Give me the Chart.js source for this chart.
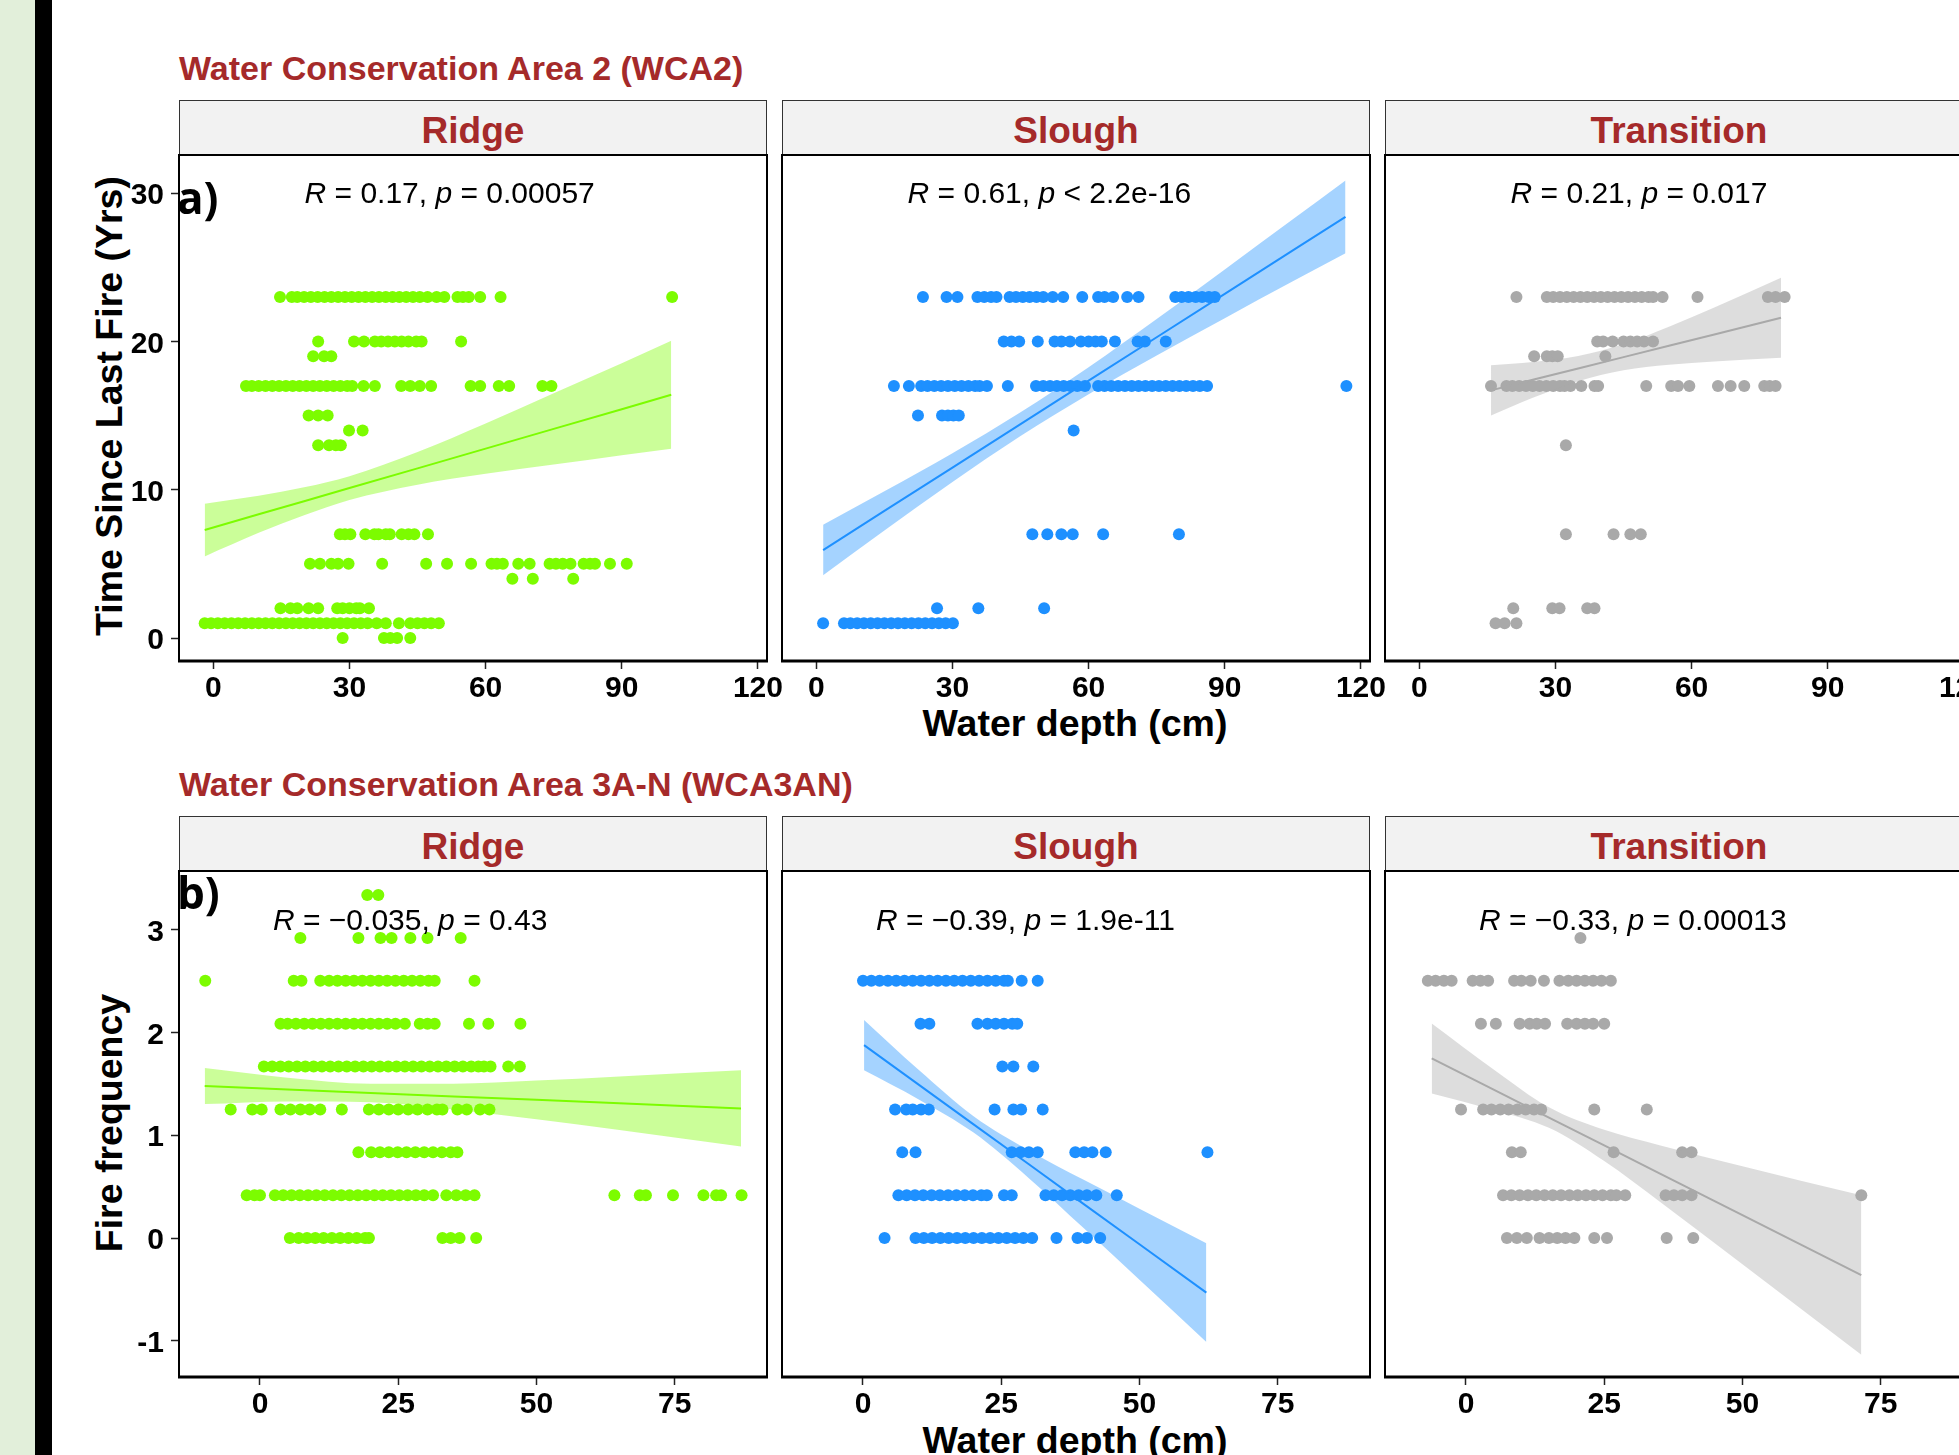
<!DOCTYPE html>
<html><head><meta charset="utf-8">
<script src="https://cdn.jsdelivr.net/npm/chart.js@4.4.1/dist/chart.umd.min.js"></script>
<style>
html,body{margin:0;padding:0;width:1959px;height:1455px;overflow:hidden;background:#fff;}
#stage{position:relative;width:1959px;height:1455px;overflow:hidden;background:#fff;}
.t{position:absolute;white-space:nowrap;line-height:1;margin:0;padding:0;}
canvas{position:absolute;}
.strip{position:absolute;background:#F2F2F2;border:1.5px solid #333;box-sizing:border-box;}
</style></head><body><div id="stage"></div>
<script>
// ---------------- DATA ----------------
const TOP_X_TICKS = [0, 30, 60, 90, 120];
const TOP_Y_TICKS = [0, 10, 20, 30];
const BOTTOM_X_TICKS = [0, 25, 50, 75];
const BOTTOM_Y_TICKS = [-1, 0, 1, 2, 3];
const FACETS = ['Ridge', 'Slough', 'Transition'];
const AREA_TITLES = ['Water Conservation Area 2 (WCA2)', 'Water Conservation Area 3A-N (WCA3AN)'];
const Y_TITLES = ['Time Since Last Fire (Yrs)', 'Fire frequency'];
const X_TITLE = 'Water depth (cm)';
const PANEL_TAGS = ['a)', 'b)'];

// WCA2 – time since last fire (y levels) vs water depth (x)
const WCA2_RIDGE_LEVELS = [23, 20, 19, 17, 15, 14, 13, 7, 5, 4, 2, 1, 0];
const WCA2_RIDGE_DEPTHS = [
  [14.7, 17.3, 18.5, 20, 21.5, 23, 24.5, 26, 27.5, 29, 30.5, 32, 33.5, 35, 36.5, 38, 39.5, 41, 42.5, 44, 45.5, 47.2, 49.2, 50.9, 53.8, 55, 56.3, 58.8, 63.3, 101.1],
  [23.1, 31.0, 33.2, 35.6, 37, 38.5, 40, 41.5, 43, 44.7, 45.9, 54.6],
  [22.0, 24.4, 26.0],
  [7.2, 8.5, 10, 11.5, 13, 14.5, 16, 17.5, 19, 20.5, 22, 23.5, 25, 26.5, 28, 29.5, 30.6, 33.1, 35.6, 41.4, 43.4, 45.5, 48.0, 56.7, 58.8, 62.9, 65.2, 72.5, 74.5],
  [21.0, 23.1, 25.2],
  [29.9, 32.9],
  [23.1, 25.5, 27, 28.1],
  [27.9, 29, 30.2, 33.5, 35.5, 36.4, 38, 38.9, 41.5, 43, 44.3, 47.3],
  [21.3, 23.5, 26.0, 27.5, 29.8, 37.2, 46.9, 51.5, 56.8, 61.3, 62.5, 63.8, 67.2, 69.7, 74.1, 75.5, 77.0, 78.7, 81.6, 83, 84.1, 87.4, 91.1],
  [65.9, 70.4, 79.3],
  [14.8, 17, 18.5, 21, 23.1, 27.3, 28.5, 30, 31.5, 32.3, 34.3],
  [-1.9, -0.5, 1, 2.5, 4, 5.5, 7, 8.5, 10, 11.5, 13, 14.5, 16, 17.5, 19, 20.5, 22, 23.5, 25, 26.5, 28, 29.5, 31, 32.5, 34, 36.0, 38.0, 40.9, 43.4, 45, 46.5, 48, 49.7],
  [28.5, 37.6, 39, 40.5, 43.4]
];
const WCA2_SLOUGH_LEVELS = [23, 20, 17, 15, 14, 7, 2, 1];
const WCA2_SLOUGH_DEPTHS = [
  [23.5, 28.7, 31.1, 35.5, 37, 38.5, 39.7, 42.6, 44, 45.5, 47, 48.5, 50, 52.1, 54.4, 58.6, 62.1, 63.5, 65.4, 68.5, 71.0, 79.1, 80.5, 82.0, 83.6, 85, 86.5, 87.8],
  [41.3, 43, 44.7, 48.8, 52.5, 54, 55.9, 58.3, 60, 61.5, 62.9, 65.8, 70.8, 72.4, 77.0],
  [17.1, 20.4, 23.1, 24.5, 26, 27.5, 29, 30.5, 32, 33.5, 35, 36.0, 37.6, 42.2, 48.4, 50, 51.5, 53, 54.5, 56, 57.5, 59.2, 62.1, 63.5, 65, 66.5, 68, 69.5, 71, 72.5, 74, 75.5, 77, 78.5, 80, 81.5, 83, 84.5, 86.1, 116.8],
  [22.4, 27.7, 29, 30.2, 31.4],
  [56.7],
  [47.6, 50.9, 54.0, 56.5, 63.2, 79.9],
  [26.6, 35.7, 50.2],
  [1.5, 6.1, 7.5, 9, 10.5, 12, 13.5, 15, 16.5, 18, 19.5, 21, 22.5, 24, 25.5, 27, 28.5, 30.1]
];
const WCA2_TRANS_LEVELS = [23, 20, 19, 17, 13, 7, 2, 1];
const WCA2_TRANS_DEPTHS = [
  [21.4, 28.1, 29.5, 31, 32.5, 34, 35.5, 37, 38.5, 40, 41.5, 43, 44.5, 46, 47.5, 49, 50.5, 51.5, 53.6, 61.3, 76.8, 78.5, 80.5],
  [39.2, 40.5, 42.6, 45.0, 46.5, 48, 49.5, 51.5],
  [25.3, 28.1, 29.3, 30.5, 41.0],
  [15.8, 19.2, 20.5, 22, 23.5, 25, 26.5, 28, 29.5, 31, 32, 33.3, 35.7, 38.6, 39.4, 50.0, 55.5, 57, 59.5, 65.8, 68.6, 71.6, 76.0, 77.2, 78.5],
  [32.3],
  [32.3, 42.8, 46.5, 48.8],
  [20.7, 29.3, 30.9, 37.0, 38.6],
  [16.8, 18.8, 21.4]
];

// WCA3AN – fire frequency (y levels) vs water depth (x)
const WCA3_RIDGE_LEVELS = [3.333, 2.917, 2.5, 2.083, 1.667, 1.25, 0.833, 0.417, 0];
const WCA3_RIDGE_DEPTHS = [
  [19.4, 21.4],
  [7.3, 17.8, 21.8, 23.8, 27.2, 30.3, 36.3],
  [-9.9, 6.1, 7.5, 10.9, 12.5, 14, 15.5, 17, 18.5, 20, 21.5, 23, 24.5, 26, 27.5, 29, 30.5, 31.6, 38.8],
  [3.7, 5, 6.5, 8, 9.5, 11, 12.5, 14, 15.5, 17, 18.5, 20, 21.5, 23, 24.5, 26.2, 28.9, 30.3, 31.6, 37.8, 41.3, 47.1],
  [0.7, 2.2, 3.7, 5.2, 6.7, 8.2, 9.7, 11.2, 12.7, 14.2, 15.7, 17.2, 18.7, 20.2, 21.7, 23.2, 24.7, 26.2, 27.7, 29.2, 30.7, 32.2, 33.7, 35.2, 36.7, 38.2, 39.5, 40.5, 41.7, 44.9, 47.0],
  [-5.3, -1.4, 0.3, 3.7, 5.5, 7.3, 9, 10.9, 14.8, 19.7, 21.5, 23.3, 25, 26.8, 28.5, 30.3, 32, 33.0, 35.7, 37.4, 39.8, 41.5],
  [17.8, 20.1, 21.7, 23.3, 24.9, 26.5, 28.1, 29.7, 31.3, 32.9, 34.5, 35.7],
  [-2.4, -1, 0, 2.7, 4.2, 5.7, 7.2, 8.7, 10.2, 11.7, 13.2, 14.7, 16.2, 17.7, 19.2, 20.7, 22.2, 23.7, 25.2, 26.7, 28.2, 29.7, 31.3, 33.7, 35.5, 37.2, 38.8, 64.1, 68.7, 69.8, 74.7, 80.2, 82.5, 83.4, 87.1],
  [5.4, 7, 8.5, 10, 11.5, 13, 14.5, 16, 17.5, 19, 19.7, 33.0, 34.5, 36.1, 39.1]
];
const WCA3_SLOUGH_LEVELS = [2.5, 2.083, 1.667, 1.25, 0.833, 0.417, 0];
const WCA3_SLOUGH_DEPTHS = [
  [0, 1.5, 3, 4.5, 6, 7.5, 9, 10.5, 12, 13.5, 15, 16.5, 18, 19.5, 21, 22.5, 24, 25.5, 26.2, 28.7, 31.6],
  [10.4, 12.0, 20.7, 22.5, 24, 25.5, 27.0, 27.9],
  [25.2, 27.2, 30.8],
  [5.8, 7.8, 9, 10.5, 11.9, 23.8, 27.2, 28.6, 32.5],
  [7.1, 9.5, 26.9, 28.5, 30, 31.6, 38.4, 40, 41.5, 43.9, 62.3],
  [6.4, 7.9, 9.4, 10.9, 12.4, 13.9, 15.4, 16.9, 18.4, 19.9, 21.4, 22.4, 25.5, 26.9, 33.0, 34.5, 36, 37.5, 39, 40.5, 42.2, 45.9],
  [3.9, 9.5, 11, 12.5, 14, 15.5, 17, 18.5, 20, 21.5, 23, 24.5, 26, 27.5, 29, 30.6, 35.0, 38.8, 40.5, 42.9]
];
const WCA3_TRANS_LEVELS = [2.917, 2.5, 2.083, 1.25, 0.833, 0.417, 0];
const WCA3_TRANS_DEPTHS = [
  [20.7],
  [-6.9, -5.5, -4, -2.6, 1.2, 2.6, 4.0, 8.7, 10, 11.7, 14.1, 16.9, 18.5, 20, 21.5, 23, 24.5, 26.2],
  [2.7, 5.4, 9.7, 11.5, 12.8, 14.3, 18.3, 20, 21.5, 23, 25.0],
  [-0.9, 3.1, 4.6, 6.2, 7.7, 9.3, 10.8, 12.3, 13.6, 23.2, 32.7],
  [8.3, 9.9, 26.7, 39.1, 40.8],
  [6.7, 8.2, 9.7, 11.2, 12.7, 14.2, 15.7, 17.2, 18.7, 20.2, 21.7, 23.2, 24.7, 26.2, 27.2, 28.8, 36.1, 37.6, 39.1, 40.8, 71.5],
  [7.4, 9.2, 11.0, 13.3, 15, 16.5, 18, 19.6, 23.2, 25.5, 36.3, 41.1]
];

// regression lines and 95% bands
const WCA2_RIDGE_FIT_X = [-1.9, 10, 20, 30, 45, 60, 75, 90, 100.9];
const WCA2_RIDGE_FIT_Y = [7.28, 8.34, 9.22, 10.11, 11.44, 12.77, 14.1, 15.43, 16.4];
const WCA2_RIDGE_FIT_HI = [9.06, 9.59, 10.16, 10.91, 12.54, 14.47, 16.5, 18.53, 20.04];
const WCA2_RIDGE_FIT_LO = [5.5, 7.09, 8.28, 9.31, 10.34, 11.07, 11.7, 12.33, 12.76];

const WCA2_SLOUGH_FIT_X = [1.5, 15, 30, 45, 60, 75, 90, 105, 116.6];
const WCA2_SLOUGH_FIT_Y = [5.93, 8.57, 11.49, 14.42, 17.35, 20.28, 23.21, 26.14, 28.4];
const WCA2_SLOUGH_FIT_HI = [7.63, 9.89, 12.46, 15.22, 18.26, 21.51, 24.85, 28.23, 30.85];
const WCA2_SLOUGH_FIT_LO = [4.23, 7.25, 10.52, 13.62, 16.44, 19.05, 21.57, 24.05, 25.95];

const WCA2_TRANS_FIT_X = [15.8, 25, 35, 45, 55, 65, 79.7];
const WCA2_TRANS_FIT_Y = [16.7, 17.41, 18.17, 18.94, 19.71, 20.47, 21.6];
const WCA2_TRANS_FIT_HI = [18.4, 18.62, 19.02, 19.82, 20.99, 22.29, 24.3];
const WCA2_TRANS_FIT_LO = [15.0, 16.2, 17.32, 18.06, 18.43, 18.65, 18.9];

const WCA3_RIDGE_FIT_X = [-10, 5, 20, 35, 50, 65, 87];
const WCA3_RIDGE_FIT_Y = [1.477, 1.443, 1.41, 1.376, 1.343, 1.309, 1.26];
const WCA3_RIDGE_FIT_HI = [1.652, 1.558, 1.50, 1.50, 1.53, 1.57, 1.63];
const WCA3_RIDGE_FIT_LO = [1.302, 1.328, 1.32, 1.25, 1.155, 1.05, 0.89];

const WCA3_SLOUGH_FIT_X = [0.19, 10, 20, 30, 40, 50, 62.1];
const WCA3_SLOUGH_FIT_Y = [1.875, 1.494, 1.105, 0.717, 0.328, -0.06, -0.53];
const WCA3_SLOUGH_FIT_HI = [2.12, 1.638, 1.185, 0.852, 0.564, 0.286, -0.05];
const WCA3_SLOUGH_FIT_LO = [1.63, 1.35, 1.025, 0.582, 0.092, -0.406, -1.01];

const WCA3_TRANS_FIT_X = [-6.2, 5, 15, 25, 35, 50, 71.5];
const WCA3_TRANS_FIT_Y = [1.746, 1.442, 1.171, 0.9, 0.629, 0.222, -0.36];
const WCA3_TRANS_FIT_HI = [2.086, 1.639, 1.271, 1.052, 0.903, 0.698, 0.415];
const WCA3_TRANS_FIT_LO = [1.406, 1.245, 1.071, 0.748, 0.355, -0.254, -1.135];

const R_VALUES = [['0.17', '0.61', '0.21'], ['\u22120.035', '\u22120.39', '\u22120.33']];
const P_VALUES = [['= 0.00057', '< 2.2e-16', '= 0.017'], ['= 0.43', '= 1.9e-11', '= 0.00013']];

// ---------------- STYLE / LAYOUT ----------------
const COLORS = ['#7CFC00', '#1E90FF', '#A9A9A9'];
const RIBBONS = ['rgba(124,252,0,0.4)', 'rgba(30,144,255,0.4)', 'rgba(169,169,169,0.4)'];
const TITLE_RED = '#A52A2A';
const FONT = '"Liberation Sans", Arial, sans-serif';
const COL_LEFT = [179, 782, 1385];
const PANEL_W = 588, PANEL_H = 506;
const ROWS = [
  {strip: 100, top: 155, titleBase: 78, stripBase: 141, xTitleBase: 734, yTitleMid: 406, tagBase: 206,
   xMin: -7.56, xMax: 122.0, yMin: -1.55, yMax: 32.57, xTicks: TOP_X_TICKS, yTicks: TOP_Y_TICKS, annX: 20.1, annY: 29.3},
  {strip: 816, top: 871, titleBase: 794, stripBase: 857, xTitleBase: 1451, yTitleMid: 1123, tagBase: 901,
   xMin: -14.65, xMax: 91.7, yMin: -1.35, yMax: 3.567, xTicks: BOTTOM_X_TICKS, yTicks: BOTTOM_Y_TICKS, annX: 2.35, annY: 2.99}
];
const PANEL_DATA = [
  [[WCA2_RIDGE_LEVELS, WCA2_RIDGE_DEPTHS, WCA2_RIDGE_FIT_X, WCA2_RIDGE_FIT_Y, WCA2_RIDGE_FIT_HI, WCA2_RIDGE_FIT_LO],
   [WCA2_SLOUGH_LEVELS, WCA2_SLOUGH_DEPTHS, WCA2_SLOUGH_FIT_X, WCA2_SLOUGH_FIT_Y, WCA2_SLOUGH_FIT_HI, WCA2_SLOUGH_FIT_LO],
   [WCA2_TRANS_LEVELS, WCA2_TRANS_DEPTHS, WCA2_TRANS_FIT_X, WCA2_TRANS_FIT_Y, WCA2_TRANS_FIT_HI, WCA2_TRANS_FIT_LO]],
  [[WCA3_RIDGE_LEVELS, WCA3_RIDGE_DEPTHS, WCA3_RIDGE_FIT_X, WCA3_RIDGE_FIT_Y, WCA3_RIDGE_FIT_HI, WCA3_RIDGE_FIT_LO],
   [WCA3_SLOUGH_LEVELS, WCA3_SLOUGH_DEPTHS, WCA3_SLOUGH_FIT_X, WCA3_SLOUGH_FIT_Y, WCA3_SLOUGH_FIT_HI, WCA3_SLOUGH_FIT_LO],
   [WCA3_TRANS_LEVELS, WCA3_TRANS_DEPTHS, WCA3_TRANS_FIT_X, WCA3_TRANS_FIT_Y, WCA3_TRANS_FIT_HI, WCA3_TRANS_FIT_LO]]
];

const stage = document.getElementById('stage');
function div(cls, css, text) {
  const d = document.createElement('div');
  if (cls) d.className = cls;
  d.style.cssText = css;
  if (text !== undefined) d.textContent = text;
  stage.appendChild(d);
  return d;
}
// baseline offset for line-height:1 boxes
const LS_BASE = 0.8465, OS_BASE = 0.888;

// left decoration
div('', 'position:absolute;left:0;top:0;width:35px;height:1455px;background:#E2EFDA;');
div('', 'position:absolute;left:35px;top:0;width:17px;height:1455px;background:#000;');

ROWS.forEach((row, r) => {
  div('t', `left:179px;top:${row.titleBase - LS_BASE * 34}px;font:bold 34px ${FONT};color:${TITLE_RED};`, AREA_TITLES[r]);
  FACETS.forEach((f, c) => {
    div('strip', `left:${COL_LEFT[c]}px;top:${row.strip}px;width:${PANEL_W}px;height:${row.top - row.strip + 1}px;`);
    div('t', `left:${COL_LEFT[c] + PANEL_W / 2 - 300}px;width:600px;text-align:center;top:${row.stripBase - LS_BASE * 37}px;font:bold 37px ${FONT};color:${TITLE_RED};`, f);
  });
  div('t', `left:${COL_LEFT[1] + PANEL_W / 2 - 1 - 400}px;width:800px;text-align:center;top:${row.xTitleBase - LS_BASE * 37.5}px;font:bold 37.5px ${FONT};color:#000;`, X_TITLE);
  div('t', `left:${120 - LS_BASE * 37.5}px;top:${row.yTitleMid + 400}px;width:800px;text-align:center;font:bold 37.5px ${FONT};color:#000;transform-origin:0 0;transform:rotate(-90deg);`, Y_TITLES[r]);
});

function pointsOf(levels, depths) {
  const pts = [];
  levels.forEach((lv, i) => depths[i].forEach(d => pts.push({x: d, y: lv})));
  return pts;
}
function seriesOf(xs, ys) { return xs.map((x, i) => ({x: x, y: ys[i]})); }

const panelPlugin = {
  id: 'panelDeco',
  afterDatasetsDraw(chart, args, opts) {
    const ctx = chart.ctx;
    const xs = chart.scales.x, ys = chart.scales.y;
    const px = xs.getPixelForValue(opts.annX), py = ys.getPixelForValue(opts.annY);
    const reg = `30px ${FONT}`, ita = `italic 30px ${FONT}`;
    const parts = [[ita, 'R'], [reg, ' = ' + opts.r + ', '], [ita, 'p'], [reg, ' ' + opts.p]];
    ctx.save();
    ctx.fillStyle = '#000'; ctx.textBaseline = 'alphabetic'; ctx.textAlign = 'left';
    let cx = px;
    for (const [f, t] of parts) { ctx.font = f; ctx.fillText(t, cx, py); cx += ctx.measureText(t).width; }
    ctx.restore();
  },
  afterDraw(chart) {
    const ctx = chart.ctx, a = chart.chartArea;
    ctx.save();
    ctx.strokeStyle = '#000';
    ctx.lineWidth = 2;
    ctx.strokeRect(a.left, a.top, a.right - a.left, a.bottom - a.top);
    ctx.lineWidth = 3;
    ctx.beginPath(); ctx.moveTo(a.left - 1, a.bottom); ctx.lineTo(a.right + 1, a.bottom); ctx.stroke();
    ctx.restore();
  }
};

ROWS.forEach((row, r) => {
  [0, 1, 2].forEach(c => {
    const [levels, depths, fx, fy, fhi, flo] = PANEL_DATA[r][c];
    const padL = c === 0 ? 59 : 40, padR = 30, padT = 30, padB = 70;
    const cv = document.createElement('canvas');
    const W = PANEL_W + padL + padR, H = PANEL_H + padT + padB;
    cv.width = W; cv.height = H;
    cv.style.cssText = `left:${COL_LEFT[c] - padL}px;top:${row.top - padT}px;width:${W}px;height:${H}px;`;
    stage.appendChild(cv);
    const tickFont = {family: FONT, size: 30, weight: 'bold'};
    const grid = {display: true, drawOnChartArea: false, drawTicks: true, tickLength: 8, tickWidth: 1.5, tickColor: '#222'};
    const yScale = {type: 'linear', display: c === 0, min: row.yMin, max: row.yMax,
      afterBuildTicks: s => { s.ticks = row.yTicks.map(v => ({value: v})); },
      grid: grid, border: {display: false},
      ticks: {font: tickFont, color: '#000', padding: 7, labelOffset: 3, autoSkip: false, callback: v => String(v)}};
    if (c === 0) yScale.afterFit = s => { s.width = padL; };
    new Chart(cv, {
      type: 'scatter',
      data: {datasets: [
        {type: 'line', data: seriesOf(fx, fy), borderColor: COLORS[c], borderWidth: 2, pointRadius: 0, fill: false, tension: 0},
        {type: 'line', data: seriesOf(fx, fhi), borderColor: 'rgba(0,0,0,0)', borderWidth: 1, pointRadius: 0, fill: '+1', backgroundColor: RIBBONS[c], cubicInterpolationMode: 'monotone'},
        {type: 'line', data: seriesOf(fx, flo), borderColor: 'rgba(0,0,0,0)', borderWidth: 1, pointRadius: 0, fill: false, cubicInterpolationMode: 'monotone'},
        {type: 'scatter', data: pointsOf(levels, depths), backgroundColor: COLORS[c], borderWidth: 0, pointRadius: 6, pointHoverRadius: 6}
      ]},
      options: {
        responsive: false, animation: false, devicePixelRatio: 1, events: [],
        layout: {padding: {left: c === 0 ? 0 : padL, right: padR, top: padT, bottom: 0}},
        plugins: {legend: {display: false}, tooltip: {enabled: false},
          panelDeco: {annX: row.annX, annY: row.annY, r: R_VALUES[r][c], p: P_VALUES[r][c]}},
        scales: {
          x: {type: 'linear', min: row.xMin, max: row.xMax,
            afterBuildTicks: s => { s.ticks = row.xTicks.map(v => ({value: v})); },
            afterFit: s => { s.height = padB; },
            grid: grid, border: {display: false},
            ticks: {font: tickFont, color: '#000', padding: 2, maxRotation: 0, autoSkip: false, callback: v => String(v)}},
          y: yScale
        }
      },
      plugins: [panelPlugin]
    });
  });
  div('t', `left:177px;top:${row.tagBase - OS_BASE * 44}px;font:bold 44px "Open Sans", sans-serif;color:#000;`, PANEL_TAGS[r]);
});
</script></body></html>
